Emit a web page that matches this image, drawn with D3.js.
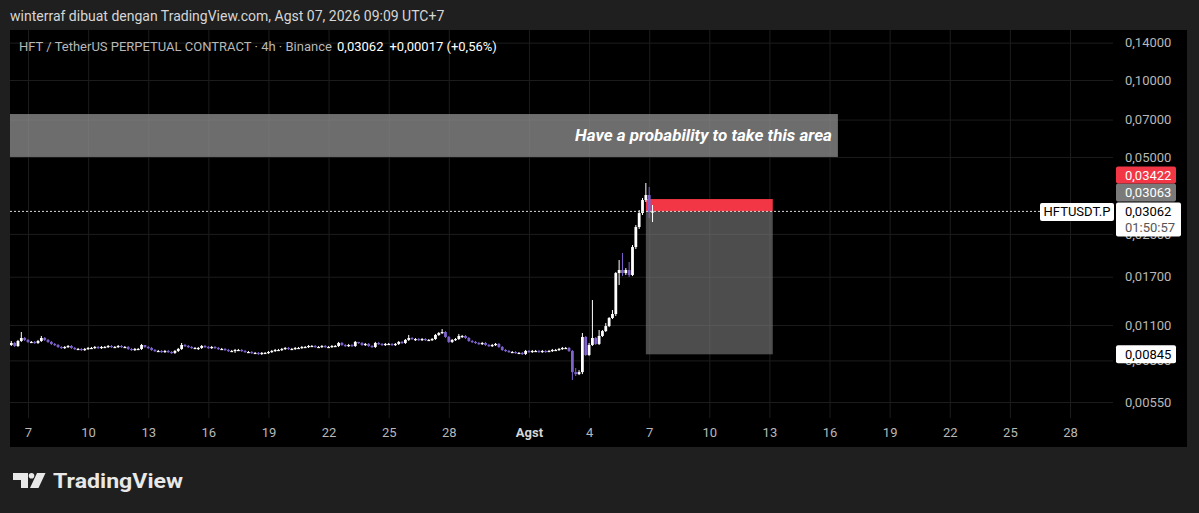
<!DOCTYPE html>
<html><head><meta charset="utf-8">
<script src="https://cdn.jsdelivr.net/npm/d3@7"></script>
<style>
html,body{margin:0;padding:0;background:#1f1f1f;}
svg{display:block;font-family:Roboto,"Noto Sans",sans-serif;}
</style></head><body>
<svg id="c" width="1199" height="513"></svg>
<script>
// ---------- data ----------
const headerText = "winterraf dibuat dengan TradingView.com, Agst 07, 2026 09:09 UTC+7";
const symbolTitle = "HFT / TetherUS PERPETUAL CONTRACT · 4h · Binance";
const lastPriceText = "0,03062";
const changeText = "+0,00017 (+0,56%)";
const countdown = "01:50:57";
const symbolCode = "HFTUSDT.P";
const bandText = "Have a probability to take this area";

// bars are 4h, wall-clock UTC+7 times stored as UTC
const firstBarTime = Date.UTC(2026, 6, 6, 7);
const barHours = 4;
const firstOpen = 0.00919;
const closes = [
0.00936,0.00911,0.00953,0.00979,0.00962,0.00945,0.00945,0.00936,0.00953,0.00979,
0.00962,0.00945,0.00928,0.00919,0.00903,0.00895,0.00903,0.00911,0.00895,0.00887,
0.00887,0.00879,0.00887,0.00895,0.00895,0.00903,0.00895,0.00903,0.00903,0.00911,
0.00903,0.00903,0.00911,0.00903,0.00903,0.00887,0.00879,0.00887,0.00887,0.00919,
0.00903,0.00895,0.00879,0.00871,0.00871,0.00863,0.00871,0.00863,0.00856,0.00871,
0.00887,0.00919,0.00911,0.00903,0.00895,0.00895,0.00895,0.00911,0.00903,0.00895,
0.00903,0.00895,0.00887,0.00887,0.00879,0.00871,0.00871,0.00879,0.00879,0.00871,
0.00863,0.00863,0.00856,0.00856,0.00848,0.00856,0.00856,0.00863,0.00871,0.00879,
0.00879,0.00887,0.00895,0.00887,0.00887,0.00895,0.00895,0.00903,0.00903,0.00911,
0.00911,0.00903,0.00903,0.00911,0.00903,0.00903,0.00911,0.00911,0.00936,0.00919,
0.00911,0.00919,0.00911,0.00945,0.00936,0.00919,0.00928,0.00911,0.00903,0.00936,
0.00928,0.00919,0.00928,0.00928,0.00919,0.00928,0.00945,0.00936,0.00962,0.00979,
0.00970,0.00970,0.00962,0.00970,0.00962,0.00962,0.00970,0.01006,0.01024,0.01033,
0.00988,0.00945,0.00962,0.00970,0.00997,0.00997,0.00979,0.00953,0.00945,0.00936,
0.00928,0.00936,0.00919,0.00911,0.00919,0.00928,0.00903,0.00879,0.00871,0.00863,
0.00863,0.00856,0.00856,0.00848,0.00871,0.00863,0.00871,0.00871,0.00863,0.00871,
0.00863,0.00871,0.00879,0.00879,0.00887,0.00895,0.00895,0.00871,0.00720,0.00707,
0.00720,0.00988,0.00840,0.00919,0.00979,0.00928,0.00997,0.01042,0.01090,0.01172,
0.01215,0.01757,0.01806,0.01757,0.01806,0.01726,0.02221,0.02660,0.03017,0.03392,
0.03549,0.03045,0.03062];
const highs = [
0.00953,0.00945,0.00962,0.01033,0.00988,0.00970,0.00953,0.00953,0.00962,0.00997,
0.00988,0.00970,0.00953,0.00936,0.00928,0.00911,0.00911,0.00919,0.00919,0.00903,
0.00895,0.00895,0.00895,0.00903,0.00903,0.00911,0.00911,0.00911,0.00911,0.00919,
0.00919,0.00911,0.00919,0.00919,0.00911,0.00911,0.00895,0.00895,0.00895,0.00928,
0.00919,0.00911,0.00903,0.00887,0.00879,0.00879,0.00879,0.00879,0.00871,0.00879,
0.00895,0.00936,0.00928,0.00919,0.00911,0.00903,0.00903,0.00919,0.00919,0.00911,
0.00911,0.00911,0.00903,0.00895,0.00895,0.00887,0.00879,0.00887,0.00887,0.00887,
0.00879,0.00871,0.00871,0.00863,0.00863,0.00863,0.00863,0.00871,0.00879,0.00887,
0.00887,0.00895,0.00903,0.00903,0.00895,0.00903,0.00903,0.00911,0.00911,0.00919,
0.00919,0.00919,0.00911,0.00919,0.00919,0.00911,0.00919,0.00919,0.00945,0.00945,
0.00928,0.00928,0.00928,0.00953,0.00945,0.00945,0.00936,0.00936,0.00919,0.00945,
0.00945,0.00936,0.00936,0.00936,0.00936,0.00936,0.00953,0.00953,0.00970,0.01006,
0.00988,0.00979,0.00979,0.00979,0.00979,0.00970,0.00979,0.01015,0.01033,0.01061,
0.01042,0.00997,0.00970,0.00979,0.01015,0.01006,0.01006,0.00988,0.00962,0.00953,
0.00945,0.00945,0.00945,0.00928,0.00928,0.00936,0.00936,0.00911,0.00887,0.00879,
0.00871,0.00871,0.00863,0.00863,0.00879,0.00879,0.00879,0.00879,0.00879,0.00879,
0.00879,0.00879,0.00887,0.00887,0.00895,0.00903,0.00903,0.00903,0.00879,0.00747,
0.00733,0.01024,0.00997,0.00936,0.01378,0.00988,0.01052,0.01052,0.01120,0.01182,
0.01259,0.01773,0.01976,0.02104,0.01838,0.01941,0.02262,0.02708,0.03100,0.03454,
0.03954,0.03814,0.03243];
const lows = [
0.00911,0.00903,0.00903,0.00945,0.00953,0.00936,0.00936,0.00928,0.00928,0.00945,
0.00953,0.00936,0.00919,0.00911,0.00895,0.00887,0.00887,0.00895,0.00887,0.00879,
0.00879,0.00871,0.00871,0.00879,0.00887,0.00887,0.00887,0.00887,0.00895,0.00895,
0.00895,0.00895,0.00895,0.00895,0.00895,0.00879,0.00871,0.00871,0.00879,0.00879,
0.00895,0.00887,0.00871,0.00863,0.00863,0.00856,0.00856,0.00856,0.00848,0.00848,
0.00863,0.00879,0.00903,0.00895,0.00887,0.00887,0.00879,0.00887,0.00895,0.00887,
0.00887,0.00887,0.00879,0.00879,0.00871,0.00863,0.00863,0.00856,0.00871,0.00863,
0.00856,0.00856,0.00848,0.00848,0.00840,0.00840,0.00848,0.00848,0.00856,0.00863,
0.00871,0.00871,0.00879,0.00879,0.00879,0.00879,0.00887,0.00887,0.00895,0.00895,
0.00903,0.00895,0.00895,0.00895,0.00895,0.00895,0.00895,0.00903,0.00903,0.00911,
0.00903,0.00903,0.00903,0.00903,0.00928,0.00911,0.00911,0.00903,0.00895,0.00895,
0.00919,0.00911,0.00911,0.00919,0.00911,0.00911,0.00919,0.00928,0.00928,0.00953,
0.00962,0.00953,0.00953,0.00953,0.00953,0.00953,0.00953,0.00962,0.00997,0.01015,
0.00979,0.00936,0.00936,0.00953,0.00962,0.00979,0.00970,0.00945,0.00936,0.00928,
0.00919,0.00919,0.00911,0.00903,0.00903,0.00911,0.00895,0.00871,0.00863,0.00856,
0.00856,0.00848,0.00848,0.00840,0.00840,0.00856,0.00856,0.00863,0.00856,0.00856,
0.00856,0.00863,0.00863,0.00871,0.00871,0.00879,0.00887,0.00863,0.00670,0.00695,
0.00701,0.00707,0.00833,0.00833,0.00911,0.00919,0.00919,0.00988,0.01033,0.01080,
0.01161,0.01193,0.01578,0.01710,0.01726,0.01695,0.01710,0.02182,0.02613,0.02964,
0.03332,0.02885,0.02782];

const priceTicks = [0.14, 0.10, 0.07, 0.05, 0.025, 0.017, 0.011, 0.008, 0.0055];
const dateTickDays = [[6,7],[6,10],[6,13],[6,16],[6,19],[6,22],[6,25],[6,28],[7,1],[7,4],[7,7],[7,10],[7,13],[7,16],[7,19],[7,22],[7,25],[7,28]];
const dateTickLabels = ["7","10","13","16","19","22","25","28","Agst","4","7","10","13","16","19","22","25","28"];

// drawings
const bandPrices = [0.0736, 0.05];
const bandTimes = [Date.UTC(2026,5,28,3), Date.UTC(2026,7,16,13)];
const posEntry = 0.03063, posStop = 0.03422, posTarget = 0.00845;
const posTimes = [Date.UTC(2026,7,6,23), Date.UTC(2026,7,13,7)];
const lastPrice = 0.03062;

// ---------- layout ----------
const W = 1199, H = 513;
const pane = {left:10, right:1113, top:30, bottom:418};
const frame = {left:10, right:1187, top:30, bottom:447};
const UP = "#ffffff", DOWN = "#7f62cc";
const fmt = v => d3.format(".5f")(v).replace(".", ",");

const svg = d3.select("#c");
svg.append("rect").attr("width", W).attr("height", H).attr("fill", "#1f1f1f");
svg.append("rect").attr("x", frame.left).attr("y", frame.top)
  .attr("width", frame.right - frame.left).attr("height", frame.bottom - frame.top).attr("fill", "#000");

const x = d3.scaleUtc().domain([Date.UTC(2026,6,7,3), Date.UTC(2026,7,28,3)]).range([28, 1070]);
const y = d3.scaleLog().domain([0.1, 0.0055]).range([80, 402]);
const dateTicks = dateTickDays.map(([m,d]) => new Date(Date.UTC(2026, m, d, 3)));

svg.append("clipPath").attr("id","pc").append("rect")
  .attr("x", pane.left).attr("y", pane.top).attr("width", pane.right - pane.left).attr("height", pane.bottom - pane.top);

// grid
const gridCol = "#1c1c1c";
const gy = svg.append("g").attr("transform", `translate(${pane.left},0)`)
  .call(d3.axisRight(y).tickValues(priceTicks).tickSize(pane.right - pane.left).tickFormat(""));
gy.select(".domain").remove();
gy.selectAll("line").attr("stroke", gridCol);
const gx = svg.append("g").attr("transform", `translate(0,${pane.top})`)
  .call(d3.axisBottom(x).tickValues(dateTicks).tickSize(pane.bottom - pane.top).tickFormat(""));
gx.select(".domain").remove();
gx.selectAll("line").attr("stroke", gridCol);

const plot = svg.append("g").attr("clip-path", "url(#pc)");

// band drawing
plot.append("rect")
  .attr("x", x(bandTimes[0])).attr("y", y(bandPrices[0]))
  .attr("width", x(bandTimes[1]) - x(bandTimes[0])).attr("height", y(bandPrices[1]) - y(bandPrices[0]))
  .attr("fill", "#8c8c8c").attr("fill-opacity", 0.78);
plot.append("text")
  .attr("x", x(bandTimes[1]) - 6).attr("y", (y(bandPrices[0]) + y(bandPrices[1])) / 2)
  .attr("text-anchor", "end").attr("dominant-baseline", "central")
  .attr("font-size", 17).attr("font-weight", 700).attr("font-style", "italic")
  .attr("fill", "#ffffff").text(bandText);

// position tool
const px0 = x(posTimes[0]), px1 = x(posTimes[1]);
plot.append("rect").attr("x", px0).attr("y", y(posEntry)).attr("width", px1 - px0)
  .attr("height", y(posTarget) - y(posEntry)).attr("fill", "#808080").attr("fill-opacity", 0.6);
plot.append("rect").attr("x", px0).attr("y", y(posStop)).attr("width", px1 - px0)
  .attr("height", y(posEntry) - y(posStop)).attr("fill", "#f23645");

// last price dotted line
svg.append("line").attr("x1", pane.left).attr("x2", 1040)
  .attr("y1", y(lastPrice)).attr("y2", y(lastPrice))
  .attr("stroke", "#d8d8d8").attr("stroke-width", 1).attr("stroke-dasharray", "2,2");

// candles
const bars = closes.map((c, i) => ({
  t: new Date(firstBarTime + i * barHours * 3600e3),
  o: i ? closes[i - 1] : firstOpen, h: highs[i], l: lows[i], c
}));
const bw = 2.8;
const cg = plot.append("g");
cg.selectAll("line").data(bars).join("line")
  .attr("x1", d => x(d.t)).attr("x2", d => x(d.t))
  .attr("y1", d => y(d.h)).attr("y2", d => y(d.l))
  .attr("stroke", d => d.c >= d.o ? UP : DOWN).attr("stroke-width", 1);
cg.selectAll("rect").data(bars).join("rect")
  .attr("x", d => x(d.t) - bw / 2).attr("width", bw)
  .attr("y", d => y(Math.max(d.o, d.c)))
  .attr("height", d => Math.max(1.2, Math.abs(y(d.o) - y(d.c))))
  .attr("fill", d => d.c >= d.o ? UP : DOWN);

// price axis
const ya = svg.append("g").attr("transform", "translate(1125,0)")
  .call(d3.axisRight(y).tickValues(priceTicks).tickSize(0).tickPadding(0).tickFormat(fmt));
ya.select(".domain").remove();
ya.selectAll("text").attr("fill", "#b8b8b8").attr("font-size", 13).attr("font-family", "Roboto");

// time axis
const xa = svg.append("g").attr("transform", `translate(0,${pane.bottom + 2})`)
  .call(d3.axisBottom(x).tickValues(dateTicks).tickSize(0).tickPadding(8).tickFormat((d, i) => dateTickLabels[i]));
xa.select(".domain").remove();
xa.selectAll("text").attr("fill", (d, i) => dateTickLabels[i] === "Agst" ? "#d6d6d6" : "#b8b8b8")
  .attr("font-weight", (d, i) => dateTickLabels[i] === "Agst" ? 700 : 400)
  .attr("font-size", 13).attr("font-family", "Roboto");

// right-axis labels (stacked above the last price label)
const ly = y(lastPrice);
const labX = 1116;
function axisLabel(top, h, w, bg, txt, col) {
  svg.append("rect").attr("x", labX).attr("y", top).attr("width", w).attr("height", h).attr("fill", bg).attr("rx", 2);
  svg.append("text").attr("x", 1125).attr("y", top + Math.min(h, 18) / 2 + 0.5).attr("dominant-baseline", "central")
    .attr("font-size", 13).attr("fill", col).text(txt);
}
const lastTop = ly - 9;
axisLabel(lastTop, 34, 65, "#ffffff", lastPriceText, "#000");
svg.append("text").attr("x", 1125).attr("y", lastTop + 25).attr("dominant-baseline", "central")
  .attr("font-size", 13).attr("fill", "#555").text(countdown);
axisLabel(lastTop - 19, 18, 60, "#7a7a7a", fmt(posEntry), "#fff");
axisLabel(lastTop - 36, 17, 60, "#f23645", fmt(posStop), "#fff");
axisLabel(y(posTarget) - 9, 18, 60, "#ffffff", fmt(posTarget), "#000");
// symbol tag
svg.append("rect").attr("x", 1040).attr("y", ly - 8.5).attr("width", 74).attr("height", 18).attr("rx", 2).attr("fill", "#fff");
svg.append("text").attr("x", 1077).attr("y", ly + 0.5).attr("text-anchor", "middle").attr("dominant-baseline", "central")
  .attr("font-size", 13).attr("fill", "#000").text(symbolCode);

// header and legend
svg.append("text").attr("x", 10).attr("y", 16).attr("dominant-baseline", "central")
  .attr("font-size", 14).attr("fill", "#d6d6d6").text(headerText);
const leg = svg.append("text").attr("x", 19).attr("y", 46).attr("dominant-baseline", "central").attr("font-size", 13);
leg.append("tspan").attr("fill", "#b8b8b8").text(symbolTitle + "  ");
leg.append("tspan").attr("fill", "#ffffff").attr("dx", 2).text(lastPriceText);
leg.append("tspan").attr("fill", "#ffffff").attr("dx", 6).text(changeText);

// TradingView logo
const logo = svg.append("g").attr("fill", "#e8e8e8");
logo.append("path").attr("d", "M13 473 H28 V488 H21 V480 H13 Z");
logo.append("circle").attr("cx", 31.5).attr("cy", 475.8).attr("r", 2.8);
logo.append("path").attr("d", "M37 473 H45.5 L38.5 488 H30 Z");
logo.append("text").attr("x", 53).attr("y", 488).attr("font-size", 21).attr("font-weight", 700)
  .attr("textLength", 130).attr("lengthAdjust", "spacingAndGlyphs").text("TradingView");
</script>
</body></html>
